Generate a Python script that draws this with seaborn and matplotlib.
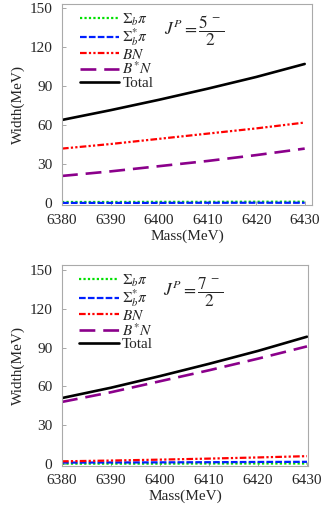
import matplotlib
matplotlib.use("Agg")
import matplotlib.pyplot as plt
import seaborn as sns
import numpy as np

# masses (MeV)
mass = [6380, 6390, 6400, 6410, 6420, 6430]

# J^P = 5/2^-
sigb_pi_52 = [1.0, 1.0, 1.1, 1.1, 1.2, 1.2]
sigbs_pi_52 = [0.3, 0.3, 0.3, 0.4, 0.4, 0.4]
bn_52 = [42.0, 45.5, 49.5, 53.5, 57.5, 62.0]
bsn_52 = [21.0, 24.5, 28.5, 32.5, 37.0, 42.0]
total_52 = [64.0, 71.5, 79.5, 88.0, 97.0, 107.0]

# J^P = 7/2^-
sigb_pi_72 = [0.2, 0.2, 0.2, 0.3, 0.3, 0.3]
sigbs_pi_72 = [1.0, 1.1, 1.2, 1.3, 1.5, 1.6]
bn_72 = [2.0, 2.6, 3.3, 4.1, 5.0, 6.0]
bsn_72 = [48.0, 55.5, 64.0, 72.5, 81.5, 91.0]
total_72 = [51.0, 59.0, 68.0, 77.5, 87.5, 98.5]

labels = [r"$\Sigma_b\pi$", r"$\Sigma_b^{*}\pi$", r"$BN$", r"$B^{*}N$", "Total"]
yticks = [0, 30, 60, 90, 120, 150]
xticks = [6380, 6390, 6400, 6410, 6420, 6430]

sns.set_style("ticks")
plt.rcParams["font.family"] = ["Liberation Serif", "DejaVu Serif"]
plt.rcParams["mathtext.fontset"] = "stix"

styles = [
    dict(color="#00e000", linestyle=(0, (1, 1)), linewidth=1.6),
    dict(color="#0020ff", linestyle=(0, (3, 1)), linewidth=1.6),
    dict(color="#ff0000", linestyle=(0, (3, 1, 1, 1, 1, 1)), linewidth=1.6),
    dict(color="#8b008b", linestyle=(0, (6, 3)), linewidth=1.9),
    dict(color="black", linestyle="-", linewidth=1.9),
]

fig = plt.figure(figsize=(3.36, 5.08), dpi=100)
ax1 = fig.add_axes([0.1845, 0.596, 0.744, 0.396])
ax2 = fig.add_axes([0.1845, 0.083, 0.732, 0.395])


def draw(ax, series, jp, xmax, ytop):
    for vals, lab, st in zip(series, labels, styles):
        sns.lineplot(x=mass, y=vals, ax=ax, label=lab, **st)
    ax.set_xlim(6380, xmax)
    ax.set_ylim(-1.5, ytop)
    ax.set_xticks(xticks)
    ax.set_yticks(yticks)
    ax.tick_params(direction="in", length=3, width=0.6, color="#999999",
                   labelsize=11)
    ax.tick_params(axis="x", pad=6)
    ax.tick_params(axis="y", pad=7)
    for sp in ax.spines.values():
        sp.set_color("#aaaaaa")
        sp.set_linewidth(0.8)
    ax.set_xlabel("Mass(MeV)", fontsize=11, labelpad=2)
    ax.set_ylabel("Width(MeV)", fontsize=11, labelpad=3)
    ax.legend(loc="upper left", bbox_to_anchor=(0.04, 1.0), frameon=False,
              fontsize=11, handlelength=2.6, handletextpad=0.2,
              labelspacing=-0.05, borderaxespad=0.1)
    ax.text(0.41, 0.85, jp, transform=ax.transAxes, fontsize=12.5)


draw(ax1, [sigb_pi_52, sigbs_pi_52, bn_52, bsn_52, total_52],
     r"$J^{P}=\dfrac{5^{\,-}}{2}$", 6431.5, 153)
draw(ax2, [sigb_pi_72, sigbs_pi_72, bn_72, bsn_72, total_72],
     r"$J^{P}=\dfrac{7^{\,-}}{2}$", 6430.2, 153.9)

fig.savefig("out.png", dpi=100)
